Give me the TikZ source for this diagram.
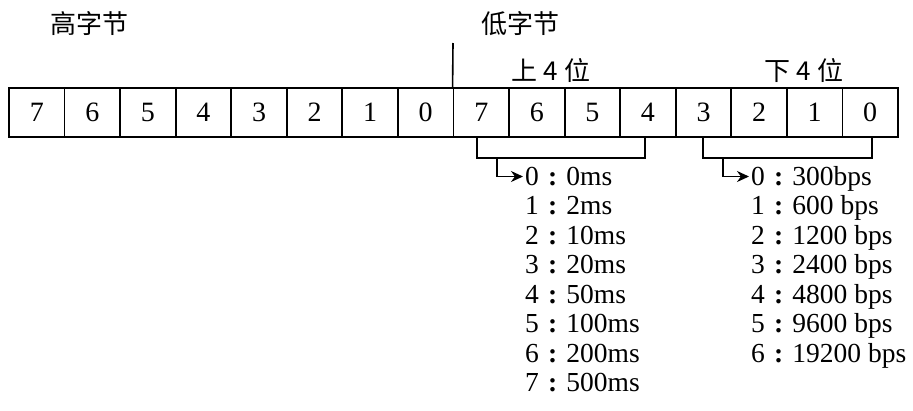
\documentclass[tikz,border=0pt]{standalone}
\usepackage{fontspec}
\setmainfont{Liberation Serif}
\newfontfamily\cjk{Noto Sans CJK SC}
\usetikzlibrary{arrows.meta}
\newcommand{\fwcolon}{\makebox[1em]{\textbf{:}}}
\begin{document}
\begin{tikzpicture}[x=1pt,y=-1pt,
  cell/.style={draw,line width=1.8pt,minimum width=55.56pt,minimum height=49pt,inner sep=0pt,font=\fontsize{28}{30}\selectfont},
  lab/.style={inner sep=0pt,font=\cjk\fontsize{26}{28}\selectfont},
  item/.style={anchor=west,inner sep=0pt,text height=17.8pt,text depth=0pt,font=\fontsize{27.5}{30}\selectfont},
  wire/.style={line width=1.6pt},
  arr/.style={wire,-{Stealth[length=12pt,width=11pt]}}]
\useasboundingbox (0,0) rectangle (913,410);
% cells
\foreach \i in {0,...,15}{
  \pgfmathtruncatemacro{\b}{7-mod(\i,8)}
  \node[cell] (c\i) at ({9+55.56*(\i+0.5)},112.5) {\b};
}
% labels
\node[lab] (hi) at (89,24) {高字节};
\node[lab] (lo) at (520,24) {低字节};
\node[lab] (up) at (551,71) {上 4 位};
\node[lab] (dn) at (804,71) {下 4 位};
\coordinate (sepTop) at (453,43);
\draw[wire] (sepTop) -- (c8.north west);
% brackets
\coordinate (lb1) at (477,137);
\coordinate (lb2) at (645,137);
\coordinate (rb1) at (703,137);
\coordinate (rb2) at (872,137);
\draw[wire] (lb1) -- (477,158) -- (645,158) -- (lb2);
\draw[wire] (rb1) -- (703,158) -- (872,158) -- (rb2);
\coordinate (la) at (497,158);
\coordinate (ra) at (723,158);
% lists
\foreach \t [count=\k from 0] in {0ms,2ms,10ms,20ms,50ms,100ms,200ms,500ms}{
  \node[item] (L\k) at (525,{176.5+29.5*\k}) {\k\fwcolon\t};
}
\foreach \t [count=\k from 0] in {300bps,600 bps,1200 bps,2400 bps,4800 bps,9600 bps,19200 bps}{
  \node[item] (R\k) at (751,{176.5+29.5*\k}) {\k\fwcolon\t};
}
\draw[arr] (la) |- ([xshift=-2pt]L0.west);
\draw[arr] (ra) |- ([xshift=-2pt]R0.west);
\end{tikzpicture}
\end{document}
